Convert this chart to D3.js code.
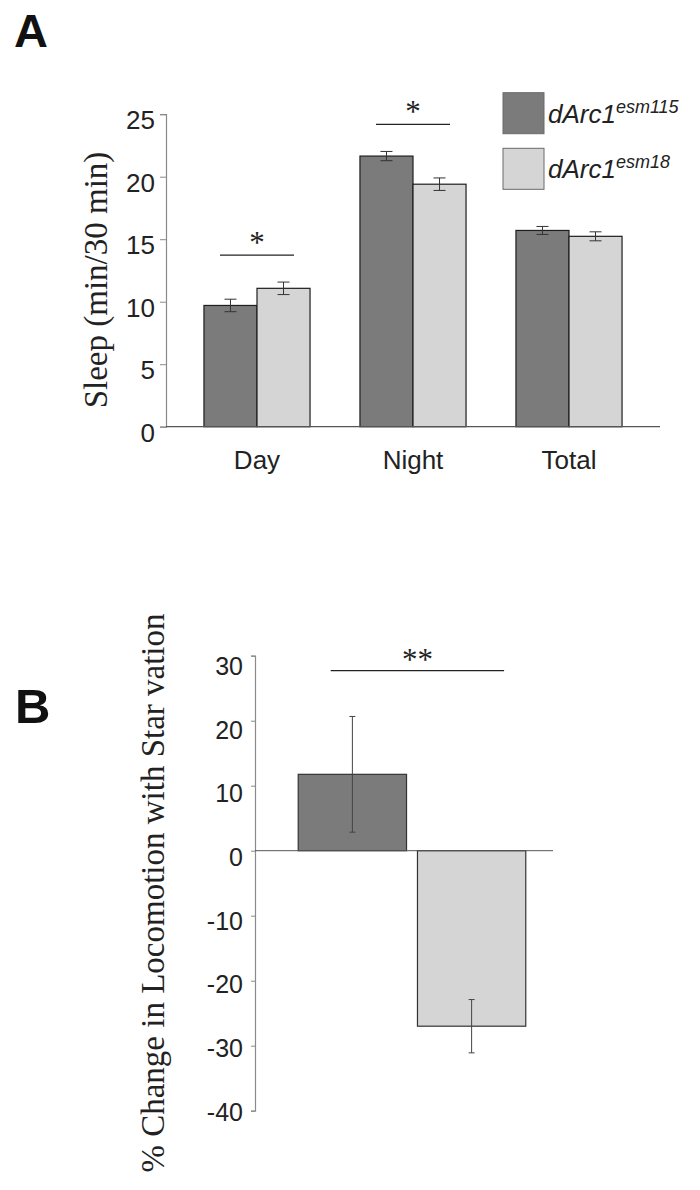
<!DOCTYPE html>
<html><head><meta charset="utf-8">
<script src="https://cdn.jsdelivr.net/npm/d3@7"></script>
<style>
body{margin:0;background:#fff;}
svg{display:block;}
</style></head>
<body><svg id="c" width="700" height="1190"></svg>
<script>
// ---- Data ----
const categoriesA = ["Day", "Night", "Total"];
const seriesNames = ["esm115", "esm18"];
const meanEsm115 = [9.7, 21.65, 15.7];
const errEsm115 = [0.5, 0.37, 0.32];
const meanEsm18 = [11.07, 19.4, 15.23];
const errEsm18 = [0.5, 0.5, 0.36];
const ticksA = [0, 5, 10, 15, 20, 25];
const sigA = [{cat: "Day", label: "*"}, {cat: "Night", label: "*"}];

const valuesB = [11.75, -27.0];
const errB = [8.9, 4.1];
const ticksB = [30, 20, 10, 0, -10, -20, -30, -40];

const colors = {esm115: "#7b7b7b", esm18: "#d5d5d5"};

const svg = d3.select("#c");
const sans = "'Liberation Sans', Arial, sans-serif";
const serif = "'Liberation Serif', 'Times New Roman', serif";

// Panel labels
svg.append("text").attr("x", 14).attr("y", 47).text("A")
  .style("font-family", sans).style("font-weight", "bold").style("font-size", "47px").attr("fill", "#111");
svg.append("text").attr("x", 15).attr("y", 722.5).text("B")
  .style("font-family", sans).style("font-weight", "bold").style("font-size", "49px").attr("fill", "#111");

// ---- Panel A ----
const yA = d3.scaleLinear().domain([0, 25]).range([426.7, 114.2]);
const xA = d3.scaleBand().domain(categoriesA).range([166, 660]).paddingInner(0.32).paddingOuter(0.2433);
const xAin = d3.scaleBand().domain(seriesNames).range([0, xA.bandwidth()]);

const gA = svg.append("g");
const axA = gA.append("g").attr("transform", "translate(166,0)")
  .call(d3.axisLeft(yA).tickValues(ticksA).tickSize(6).tickPadding(5).tickFormat(d => String(d)));
axA.select(".domain").attr("stroke", "#8a8a8a").attr("stroke-width", 1.2);
axA.selectAll(".tick line").attr("stroke", "#8a8a8a");
axA.selectAll(".tick text").style("font-family", sans).style("font-size", "26px").attr("fill", "#222")
  .attr("dy", "0.36em").attr("y", 5);

const dataA = [];
categoriesA.forEach((c, i) => {
  dataA.push({cat: c, s: "esm115", v: meanEsm115[i], e: errEsm115[i]});
  dataA.push({cat: c, s: "esm18", v: meanEsm18[i], e: errEsm18[i]});
});
gA.selectAll("rect.bar").data(dataA).enter().append("rect")
  .attr("x", d => xA(d.cat) + xAin(d.s))
  .attr("y", d => yA(d.v))
  .attr("width", xAin.bandwidth())
  .attr("height", d => yA(0) - yA(d.v))
  .attr("fill", d => colors[d.s]).attr("stroke", "#1e1e1e").attr("stroke-width", 1.2);

gA.append("line").attr("x1", 166).attr("x2", 660).attr("y1", yA(0)).attr("y2", yA(0))
  .attr("stroke", "#555").attr("stroke-width", 1.2);

const ebA = gA.selectAll("g.eb").data(dataA).enter().append("g")
  .attr("stroke", "#333").attr("stroke-width", 1);
const cxA = d => xA(d.cat) + xAin(d.s) + xAin.bandwidth() / 2;
ebA.append("line").attr("x1", cxA).attr("x2", cxA)
  .attr("y1", d => yA(d.v + d.e)).attr("y2", d => yA(d.v - d.e));
[1, -1].forEach(k => {
  ebA.append("line")
    .attr("x1", d => cxA(d) - 6).attr("x2", d => cxA(d) + 6)
    .attr("y1", d => yA(d.v + k * d.e)).attr("y2", d => yA(d.v + k * d.e));
});

gA.selectAll("text.xl").data(categoriesA).enter().append("text")
  .attr("x", d => xA(d) + xA.bandwidth() / 2).attr("y", 469)
  .attr("text-anchor", "middle").text(d => d)
  .style("font-family", sans).style("font-size", "26px").attr("fill", "#222");

sigA.forEach(s => {
  const i = categoriesA.indexOf(s.cat);
  const top = Math.max(meanEsm115[i] + errEsm115[i], meanEsm18[i] + errEsm18[i]);
  const cx = xA(s.cat) + xA.bandwidth() / 2;
  const ly = yA(top) - 27;
  gA.append("line").attr("x1", cx - 37).attr("x2", cx + 37).attr("y1", ly).attr("y2", ly)
    .attr("stroke", "#222").attr("stroke-width", 1.3);
  gA.append("text").attr("x", cx).attr("y", ly - 2).attr("text-anchor", "middle").text(s.label)
    .style("font-family", serif).style("font-size", "31px").attr("fill", "#222");
});

svg.append("text").attr("transform", "translate(107,280) rotate(-90)")
  .attr("text-anchor", "middle").text("Sleep (min/30 min)")
  .style("font-family", serif).style("font-size", "33px").attr("fill", "#222");

// legend
const leg = svg.append("g");
seriesNames.forEach((s, i) => {
  const y0 = 92.7 + i * 55.6;
  leg.append("rect").attr("x", 503).attr("y", y0).attr("width", 41).attr("height", 41)
    .attr("fill", colors[s]).attr("stroke", "#6a6a6a").attr("stroke-width", 1);
  const t = leg.append("text").attr("x", 548).attr("y", y0 + 30)
    .style("font-family", sans).style("font-style", "italic").style("font-size", "26px").attr("fill", "#222");
  t.append("tspan").text("dArc1");
  t.append("tspan").attr("dy", -10).style("font-size", "18px").text(s);
});

// ---- Panel B ----
const yB = d3.scaleLinear().domain([-40, 30]).range([1110.7, 655.7]);
const yBlabel = d3.scaleLinear().domain([-40, 30]).range([1111, 665.5]);
const xB = d3.scaleBand().domain(seriesNames).range([264, 560]).paddingInner(0.0917).paddingOuter(0.287);
const gB = svg.append("g");
const axB = gB.append("g").attr("transform", "translate(255,0)")
  .call(d3.axisLeft(yB).tickValues(ticksB).tickSize(4).tickPadding(8).tickFormat(d => String(d)));
axB.select(".domain").attr("stroke", "#8a8a8a").attr("stroke-width", 1.2);
axB.selectAll(".tick line").attr("stroke", "#8a8a8a");
axB.selectAll(".tick text").style("font-family", sans).style("font-size", "25px").attr("fill", "#222")
  .attr("dy", "0.36em").attr("y", d => yBlabel(d) - yB(d));

const dataB = seriesNames.map((s, i) => ({s: s, v: valuesB[i], e: errB[i]}));
gB.selectAll("rect").data(dataB).enter().append("rect")
  .attr("x", d => xB(d.s)).attr("width", xB.bandwidth())
  .attr("y", d => yB(Math.max(0, d.v)))
  .attr("height", d => Math.abs(yB(d.v) - yB(0)))
  .attr("fill", d => colors[d.s]).attr("stroke", "#333").attr("stroke-width", 1.2);
gB.append("line").attr("x1", 255).attr("x2", 553).attr("y1", yB(0)).attr("y2", yB(0))
  .attr("stroke", "#555").attr("stroke-width", 1);

const ebB = gB.selectAll("g.eb").data(dataB).enter().append("g")
  .attr("stroke", "#444").attr("stroke-width", 1);
const cxB = d => xB(d.s) + xB.bandwidth() / 2;
ebB.append("line").attr("x1", cxB).attr("x2", cxB)
  .attr("y1", d => yB(d.v + d.e)).attr("y2", d => yB(d.v - d.e));
[1, -1].forEach(k => {
  ebB.append("line")
    .attr("x1", d => cxB(d) - 3).attr("x2", d => cxB(d) + 3)
    .attr("y1", d => yB(d.v + k * d.e)).attr("y2", d => yB(d.v + k * d.e));
});

const sbX1 = xB(seriesNames[0]) + xB.bandwidth() * 0.3;
const sbX2 = xB(seriesNames[1]) + xB.bandwidth() * 0.8;
const sbY = yB(30) + 15;
gB.append("line").attr("x1", sbX1).attr("x2", sbX2).attr("y1", sbY).attr("y2", sbY)
  .attr("stroke", "#222").attr("stroke-width", 1.3);
gB.append("text").attr("x", (sbX1 + sbX2) / 2).attr("y", sbY - 1).attr("text-anchor", "middle").text("**")
  .style("font-family", serif).style("font-size", "31px").attr("fill", "#222");

svg.append("text").attr("transform", "translate(164,893) rotate(-90)")
  .attr("text-anchor", "middle").text("% Change in Locomotion with Star vation")
  .style("font-family", serif).style("font-size", "33px").attr("fill", "#222");
</script>
</body></html>
